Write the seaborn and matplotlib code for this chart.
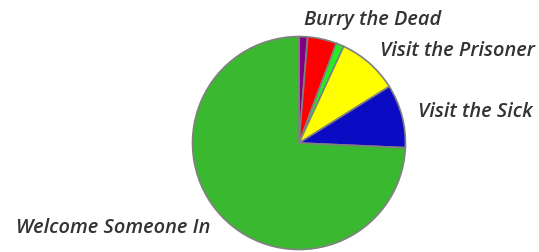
import matplotlib
matplotlib.use("Agg")
import matplotlib.pyplot as plt
import seaborn as sns

# slice data, clockwise from 12 o'clock
works = ["Burry the Dead", "", "", "Visit the Prisoner", "Visit the Sick", "Welcome Someone In"]
shares = [1.3, 4.4, 1.2, 9.2, 9.6, 74.3]
colors = ["#800080", "#ff0000", "#22ee22", "#ffff00", "#0b0bc4", "#3ab830"]

sns.set_style("white")
plt.rcParams['font.family'] = ['Open Sans', 'DejaVu Sans']

fig = plt.figure(figsize=(5.39, 2.52), dpi=100)
ax = fig.add_axes([0, 0, 1, 1])
wedges, texts = ax.pie(shares, labels=works, colors=colors, startangle=90,
                       counterclock=False, labeldistance=1.155,
                       wedgeprops=dict(edgecolor="#808080", linewidth=1.2),
                       textprops=dict(fontsize=14.4, fontweight="semibold",
                                      fontstyle="italic", color="#333333"))
ax.set_xlim(-2.808, 2.254)
ax.set_ylim(-1.023, 1.343)
ax.set_aspect("equal")
ax.axis("off")
fig.savefig("out.png", dpi=100)
